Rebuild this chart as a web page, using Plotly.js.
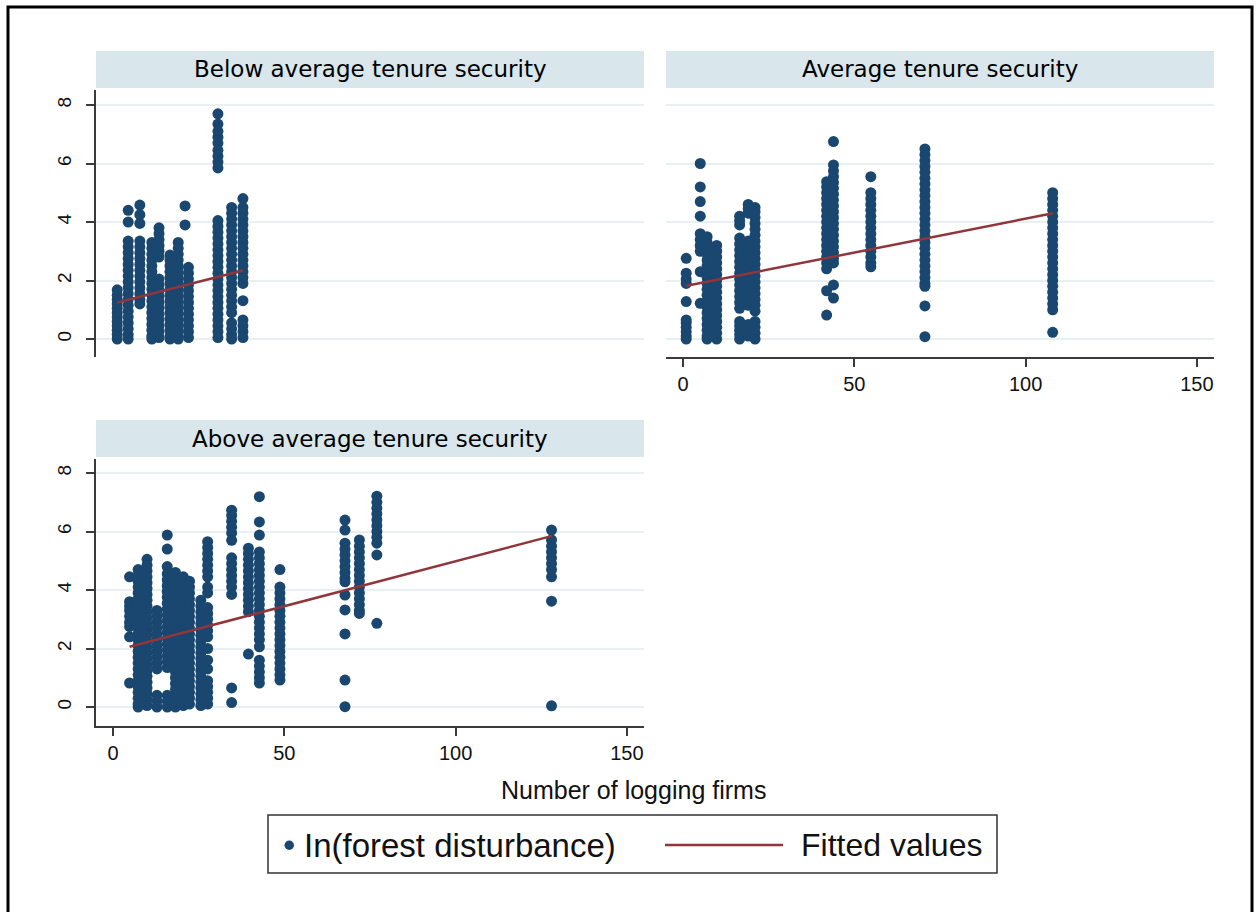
<!DOCTYPE html>
<html><head><meta charset="utf-8">
<script src="https://cdn.plot.ly/plotly-3.0.1.min.js"></script>
<style>html,body{margin:0;padding:0;background:#fff}#chart{width:1257px;height:912px}</style>
</head><body><div id="chart"></div>
<script>
// ---- text ----
const panelTitles = ["Below average tenure security", "Average tenure security", "Above average tenure security"];
const xAxisTitle = "Number of logging firms";
const legendLabels = ["In(forest disturbance)", "Fitted values"];
const xTicks = [0, 50, 100, 150];
const yTicks = [0, 2, 4, 6, 8];

// ---- Below average tenure security: column x positions and y values ----
const belowColX = [1.2, 4.4, 7.8, 11.3, 13.4, 16.6, 19, 21, 22, 30.6, 34.6, 37.9];
const belowColY = [
  [0, 0.15, 0.3, 0.45, 0.6, 0.75, 0.9, 1.05, 1.2, 1.35, 1.5, 1.68],
  [4.4, 4.0, 3.35, 3.15, 2.95, 2.75, 2.55, 2.35, 2.15, 1.95, 1.75, 1.55, 1.35, 1.15, 0.95, 0.75, 0.55, 0.35, 0.15, 0],
  [4.58, 4.25, 3.95, 3.35, 3.15, 2.95, 2.75, 2.55, 2.35, 2.15, 1.95, 1.75, 1.55, 1.35, 1.2],
  [3.3, 3.1, 2.9, 2.7, 2.5, 2.3, 2.1, 1.9, 1.7, 1.5, 1.3, 1.1, 0.9, 0.7, 0.5, 0.3, 0.1, 0],
  [3.8, 3.6, 3.4, 3.2, 3.0, 2.8, 2.05, 1.85, 1.65, 1.45, 1.25, 1.05, 0.85, 0.65, 0.45, 0.25, 0.05],
  [2.87, 2.7, 2.5, 2.3, 2.1, 1.9, 1.7, 1.5, 1.3, 1.1, 0.9, 0.7, 0.5, 0.3, 0.1, 0],
  [3.3, 3.1, 2.9, 2.7, 2.5, 2.3, 2.1, 1.9, 1.7, 1.5, 1.3, 1.1, 0.9, 0.7, 0.5, 0.3, 0.1, 0],
  [4.55, 3.9],
  [2.45, 2.25, 2.05, 1.85, 1.65, 1.45, 1.25, 1.05, 0.85, 0.65, 0.45, 0.25, 0.05],
  [7.7, 7.35, 7.1, 6.9, 6.7, 6.45, 6.25, 6.05, 5.85, 4.05, 3.85, 3.65, 3.45, 3.25, 3.05, 2.85, 2.65, 2.45, 2.25, 2.05, 1.85, 1.65, 1.45, 1.25, 1.05, 0.85, 0.65, 0.45, 0.25, 0.05],
  [4.5, 4.3, 4.1, 3.9, 3.7, 3.5, 3.3, 3.1, 2.9, 2.7, 2.5, 2.3, 2.1, 1.9, 1.7, 1.5, 1.3, 1.1, 0.9, 0.55, 0.35, 0.15, 0],
  [4.8, 4.5, 4.3, 4.1, 3.9, 3.7, 3.5, 3.3, 3.1, 2.9, 2.7, 2.5, 2.3, 2.1, 1.9, 1.31, 0.65, 0.45, 0.25, 0.05]
];
const belowFitX = [1.2, 37.9];
const belowFitY = [1.25, 2.34];

// ---- Average tenure security ----
const avgColX = [0.9, 5.0, 7.0, 9.8, 16.5, 19, 21, 41.9, 43.9, 54.8, 70.6, 107.9];
const avgColY = [
  [0, 0.1, 0.25, 0.4, 0.55, 0.65, 1.28, 1.9, 2.05, 2.25, 2.76],
  [6.0, 5.2, 4.7, 4.2, 3.6, 3.4, 3.2, 3.0, 2.3, 1.22],
  [3.5, 3.3, 3.1, 2.9, 2.7, 2.5, 2.3, 2.1, 1.9, 1.7, 1.5, 1.3, 1.1, 0.9, 0.7, 0.5, 0.3, 0.1, 0],
  [3.2, 3.0, 2.8, 2.6, 2.4, 2.2, 2.0, 1.8, 1.6, 1.4, 1.2, 1.0, 0.8, 0.6, 0.4, 0.2, 0],
  [4.2, 4.05, 3.9, 3.45, 3.25, 3.05, 2.85, 2.65, 2.45, 2.25, 2.05, 1.85, 1.65, 1.45, 1.25, 1.05, 0.6, 0.45, 0.3, 0.15, 0],
  [4.6, 4.45, 4.3, 3.35, 3.15, 2.95, 2.75, 2.55, 2.35, 2.15, 1.95, 1.75, 1.55, 1.35, 1.15, 0.5, 0.3, 0.1],
  [4.5, 4.35, 4.15, 3.95, 3.75, 3.55, 3.35, 3.15, 2.95, 2.75, 2.55, 2.35, 2.15, 1.95, 1.75, 1.55, 1.35, 1.15, 0.95, 0.6, 0.4, 0.2, 0],
  [5.38, 5.2, 5.0, 4.8, 4.6, 4.4, 4.2, 4.0, 3.8, 3.6, 3.4, 3.2, 3.0, 2.8, 2.6, 2.4, 1.65, 0.82],
  [6.75, 5.95, 5.75, 5.55, 5.35, 5.15, 4.95, 4.75, 4.55, 4.35, 4.15, 3.95, 3.75, 3.55, 3.35, 3.15, 2.95, 2.75, 2.6, 1.85, 1.4],
  [5.55, 5.0, 4.8, 4.6, 4.4, 4.2, 4.0, 3.8, 3.6, 3.4, 3.2, 3.0, 2.8, 2.6, 2.47],
  [6.5, 6.3, 6.1, 5.9, 5.7, 5.5, 5.3, 5.1, 4.9, 4.7, 4.5, 4.3, 4.1, 3.9, 3.7, 3.5, 3.3, 3.1, 2.9, 2.7, 2.5, 2.3, 2.1, 1.9, 1.8, 1.13, 0.08],
  [5.0, 4.8, 4.6, 4.4, 4.2, 4.0, 3.8, 3.6, 3.4, 3.2, 3.0, 2.8, 2.6, 2.4, 2.2, 2.0, 1.8, 1.6, 1.4, 1.2, 1.0, 0.23]
];
const avgFitX = [1.0, 108.0];
const avgFitY = [1.82, 4.30];

// ---- Above average tenure security ----
const aboveColX = [4.8, 7.3, 9.9, 12.8, 15.8, 18.2, 20.5, 22.3, 25.6, 27.6, 34.6, 39.5, 42.7, 48.7, 67.7, 71.9, 77, 128];
const aboveColY = [
  [4.45, 3.6, 3.45, 3.3, 3.1, 2.9, 2.75, 2.4, 0.82],
  [4.7, 4.5, 4.3, 4.1, 3.9, 3.7, 3.5, 3.3, 3.1, 2.9, 2.7, 2.5, 2.3, 2.1, 1.9, 1.7, 1.5, 1.3, 1.1, 0.9, 0.7, 0.5, 0.3, 0.1, 0],
  [5.05, 4.85, 4.65, 4.45, 4.25, 4.05, 3.85, 3.65, 3.45, 3.25, 3.05, 2.85, 2.65, 2.45, 2.25, 2.05, 1.85, 1.65, 1.45, 1.25, 1.05, 0.85, 0.65, 0.45, 0.25, 0.05],
  [3.3, 3.1, 2.9, 2.7, 2.5, 2.3, 2.1, 1.9, 1.7, 1.5, 1.3, 0.4, 0.2, 0],
  [5.88, 5.4, 4.8, 4.55, 4.35, 4.15, 3.95, 3.75, 3.55, 3.35, 3.15, 2.95, 2.75, 2.55, 2.35, 2.15, 1.95, 1.75, 1.55, 1.35, 0.4, 0.2, 0],
  [4.6, 4.4, 4.2, 4.0, 3.8, 3.6, 3.4, 3.2, 3.0, 2.8, 2.6, 2.4, 2.2, 2.0, 1.8, 1.6, 1.4, 1.2, 1.0, 0.8, 0.6, 0.4, 0.2, 0],
  [4.45, 4.25, 4.05, 3.85, 3.65, 3.45, 3.25, 3.05, 2.85, 2.65, 2.45, 2.25, 2.05, 1.85, 1.65, 1.45, 1.25, 1.05, 0.85, 0.65, 0.45, 0.25, 0.05],
  [4.3, 4.1, 3.9, 3.7, 3.5, 3.3, 3.1, 2.9, 2.7, 2.5, 2.3, 2.1, 1.9, 1.7, 1.5, 1.3, 1.1, 0.9, 0.7, 0.5, 0.3, 0.1],
  [3.65, 3.45, 3.25, 3.05, 2.85, 2.65, 2.45, 2.25, 2.05, 1.85, 1.65, 1.45, 1.25, 1.05, 0.85, 0.65, 0.45, 0.25, 0.05],
  [5.65, 5.45, 5.25, 5.05, 4.85, 4.65, 4.45, 4.1, 3.9, 3.4, 3.2, 3.0, 2.8, 2.6, 2.4, 2.0, 1.6, 1.3, 0.9, 0.7, 0.5, 0.3, 0.1],
  [6.73, 6.55, 6.35, 6.15, 5.95, 5.7, 5.1, 4.9, 4.7, 4.5, 4.3, 4.1, 3.85, 0.65, 0.15],
  [5.43, 5.25, 5.05, 4.85, 4.65, 4.45, 4.25, 4.05, 3.85, 3.65, 3.45, 3.26, 1.81],
  [7.19, 6.33, 5.88, 5.3, 5.1, 4.9, 4.7, 4.5, 4.3, 4.1, 3.9, 3.7, 3.5, 3.3, 3.1, 2.9, 2.7, 2.5, 2.3, 2.06, 1.6, 1.4, 1.2, 1.0, 0.82],
  [4.7, 4.1, 3.9, 3.7, 3.5, 3.3, 3.1, 2.9, 2.7, 2.5, 2.3, 2.1, 1.9, 1.7, 1.5, 1.3, 1.1, 0.92],
  [6.39, 6.05, 5.6, 5.4, 5.2, 5.0, 4.8, 4.6, 4.4, 4.28, 3.83, 3.32, 2.5, 0.92, 0.01],
  [5.71, 5.5, 5.3, 5.1, 4.9, 4.7, 4.5, 4.3, 4.1, 3.9, 3.7, 3.5, 3.3, 3.2],
  [7.21, 7.0, 6.8, 6.6, 6.4, 6.2, 6.0, 5.8, 5.6, 5.2, 2.86],
  [6.05, 5.71, 5.5, 5.3, 5.1, 4.9, 4.7, 4.45, 3.62, 0.04]
];
const aboveFitX = [4.8, 128.2];
const aboveFitY = [2.06, 5.85];

// ---- styling ----
const W = 1257, H = 912;
const markerColor = "#1a476f";
const fitColor = "#90353b";
const gridColor = "#e8f0f2";
const axisColor = "#3a3a3a";
const stripColor = "#d9e6eb";
const px = v => v / W;
const py = v => 1 - v / H;

function flatten(cx, cy) {
  const xs = [], ys = [];
  cx.forEach((x, i) => cy[i].forEach(y => { xs.push(x); ys.push(y); }));
  return { xs, ys };
}

const panels = [
  { cx: belowColX, cy: belowColY, fx: belowFitX, fy: belowFitY, xa: "x", ya: "y" },
  { cx: avgColX, cy: avgColY, fx: avgFitX, fy: avgFitY, xa: "x2", ya: "y2" },
  { cx: aboveColX, cy: aboveColY, fx: aboveFitX, fy: aboveFitY, xa: "x3", ya: "y3" }
];

const traces = [];
panels.forEach((p, i) => {
  const f = flatten(p.cx, p.cy);
  traces.push({
    type: "scatter", mode: "markers", x: f.xs, y: f.ys, xaxis: p.xa, yaxis: p.ya,
    name: legendLabels[0], showlegend: false,
    marker: { color: markerColor, size: 11, line: { width: 0 } }, hoverinfo: "x+y"
  });
  traces.push({
    type: "scatter", mode: "lines", x: p.fx, y: p.fy, xaxis: p.xa, yaxis: p.ya,
    name: legendLabels[1], showlegend: false,
    line: { color: fitColor, width: 2.5 }, hoverinfo: "x+y"
  });
});

const tickFont = { family: "Liberation Sans, Arial, sans-serif", size: 20, color: "#111" };
const yTickFont = { family: "Liberation Sans, Arial, sans-serif", size: 19, color: "#111" };

const yBase = {
  tickvals: yTicks, ticktext: yTicks.map(String), gridcolor: gridColor, gridwidth: 2,
  zeroline: false, fixedrange: true
};
const yShown = Object.assign({}, yBase, {
  showline: true, linecolor: axisColor, linewidth: 1.5, ticks: "outside", ticklen: 8,
  tickcolor: axisColor, tickwidth: 1.5, tickangle: -90, tickfont: yTickFont, showticklabels: true,
  ticklabelstandoff: 8
});
const yHidden = Object.assign({}, yBase, { showline: false, ticks: "", showticklabels: false });

const xShown = {
  range: [-5, 155], tickvals: xTicks, ticktext: xTicks.map(String), showgrid: false, zeroline: false,
  showline: true, linecolor: axisColor, linewidth: 1.5, ticks: "outside", ticklen: 8,
  tickcolor: axisColor, tickwidth: 1.5, tickfont: tickFont, fixedrange: true
};
const xHidden = { range: [-5, 155], showgrid: false, zeroline: false, showline: false, ticks: "", showticklabels: false, fixedrange: true };

const leftDom = [px(96), px(644)];
const rightDom = [px(666), px(1214)];
const topDom = [py(357), py(90)];
const botDom = [py(726), py(459)];

const stripFont = { family: "DejaVu Sans, sans-serif", size: 23, color: "#000" };

const layout = {
  width: W, height: H,
  margin: { l: 0, r: 0, t: 0, b: 0, pad: 0 },
  paper_bgcolor: "#ffffff", plot_bgcolor: "#ffffff",
  showlegend: false,
  xaxis: Object.assign({}, xHidden, { domain: leftDom, anchor: "y" }),
  yaxis: Object.assign({}, yShown, { domain: topDom, anchor: "x", range: [-0.615, 8.513] }),
  xaxis2: Object.assign({}, xShown, { domain: rightDom, anchor: "y2" }),
  yaxis2: Object.assign({}, yHidden, { domain: topDom, anchor: "x2", range: [-0.615, 8.513] }),
  xaxis3: Object.assign({}, xShown, { domain: leftDom, anchor: "y3" }),
  yaxis3: Object.assign({}, yShown, { domain: botDom, anchor: "x3", range: [-0.65, 8.48] }),
  shapes: [
    // outer frame
    { type: "rect", xref: "paper", yref: "paper", x0: px(8), x1: px(1252), y0: -0.02, y1: py(7),
      line: { color: "#000", width: 3 }, fillcolor: "rgba(0,0,0,0)", layer: "above" },
    // strips
    { type: "rect", xref: "paper", yref: "paper", x0: px(96), x1: px(644), y0: py(88), y1: py(51), fillcolor: stripColor, line: { width: 0 } },
    { type: "rect", xref: "paper", yref: "paper", x0: px(666), x1: px(1214), y0: py(88), y1: py(51), fillcolor: stripColor, line: { width: 0 } },
    { type: "rect", xref: "paper", yref: "paper", x0: px(96), x1: px(644), y0: py(457), y1: py(420), fillcolor: stripColor, line: { width: 0 } },
    // legend box
    { type: "rect", xref: "paper", yref: "paper", x0: px(268), x1: px(997), y0: py(873), y1: py(815),
      fillcolor: "#fff", line: { color: "#333", width: 1.5 } },
    // legend marker
    { type: "circle", xref: "paper", yref: "paper", x0: px(284.5), x1: px(294), y0: py(850), y1: py(840.5),
      fillcolor: markerColor, line: { width: 0 } },
    // legend line
    { type: "line", xref: "paper", yref: "paper", x0: px(665), x1: px(783), y0: py(845), y1: py(845),
      line: { color: fitColor, width: 2.5 } }
  ],
  annotations: [
    { text: panelTitles[0], xref: "paper", yref: "paper", x: px(370), y: py(69.5), showarrow: false, xanchor: "center", yanchor: "middle", font: stripFont },
    { text: panelTitles[1], xref: "paper", yref: "paper", x: px(940), y: py(69.5), showarrow: false, xanchor: "center", yanchor: "middle", font: stripFont },
    { text: panelTitles[2], xref: "paper", yref: "paper", x: px(370), y: py(438.5), showarrow: false, xanchor: "center", yanchor: "middle", font: stripFont },
    { text: xAxisTitle, xref: "paper", yref: "paper", x: px(633), y: py(790), showarrow: false, xanchor: "center", yanchor: "middle",
      font: { family: "Liberation Sans, Arial, sans-serif", size: 25, color: "#111" } },
    { text: legendLabels[0], xref: "paper", yref: "paper", x: px(302), y: py(845), showarrow: false, xanchor: "left", yanchor: "middle",
      font: { family: "Liberation Sans, Arial, sans-serif", size: 33, color: "#111" } },
    { text: legendLabels[1], xref: "paper", yref: "paper", x: px(799), y: py(845), showarrow: false, xanchor: "left", yanchor: "middle",
      font: { family: "Liberation Sans, Arial, sans-serif", size: 32, color: "#111" } }
  ]
};

Plotly.newPlot("chart", traces, layout, { displayModeBar: false, staticPlot: false, responsive: false });
</script>
</body></html>
